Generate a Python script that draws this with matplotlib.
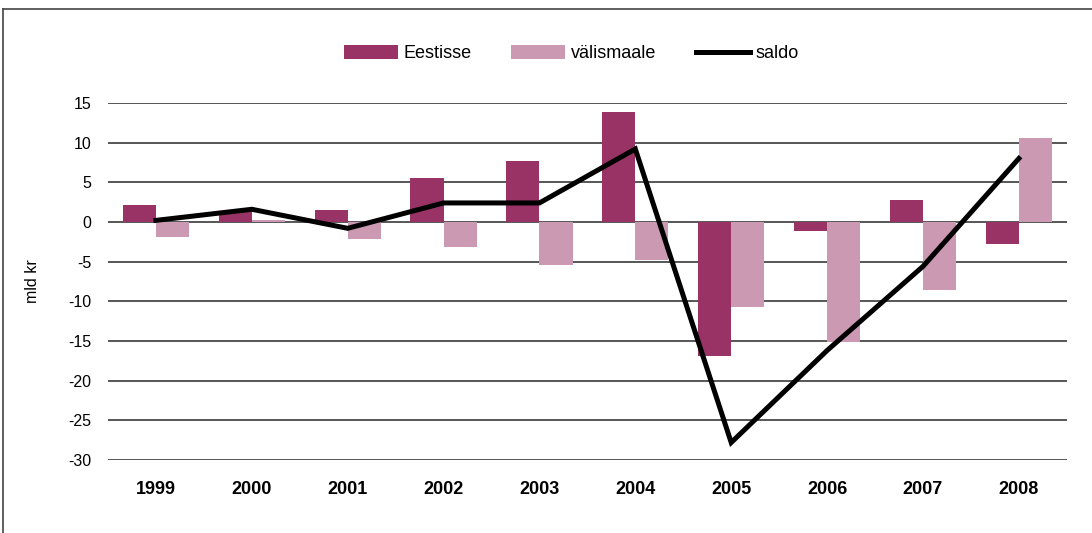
import matplotlib.pyplot as plt
from matplotlib.lines import Line2D
import numpy as np

plt.rcParams['font.family'] = ['Liberation Sans', 'DejaVu Sans']
plt.rcParams['axes.unicode_minus'] = False

years = ['1999', '2000', '2001', '2002', '2003', '2004', '2005', '2006', '2007', '2008']
eestisse = [2.1, 1.4, 1.5, 5.6, 7.7, 13.9, -16.9, -1.2, 2.8, -2.8]
valismaale = [-1.9, 0.2, -2.1, -3.1, -5.4, -4.8, -10.7, -15.1, -8.6, 10.6]
saldo = [0.2, 1.6, -0.8, 2.4, 2.4, 9.2, -27.8, -16.2, -5.6, 8.0]

fig = plt.figure(figsize=(10.92, 5.33), dpi=100)
ax = fig.add_axes([0.0989, 0.137, 0.878, 0.6698])

x = np.arange(len(years))
w = 0.345
b1 = ax.bar(x - w / 2, eestisse, w, color="#993366", label="Eestisse", zorder=2)
b2 = ax.bar(x + w / 2, valismaale, w, color="#cc99b3", label="välismaale", zorder=2)
l1, = ax.plot(x, saldo, color="black", linewidth=3.6, label="saldo", zorder=3,
              solid_joinstyle="miter")

ax.set_xlim(-0.5, len(years) - 0.5)
ax.set_ylim(-30, 15)
ax.set_yticks(range(-30, 16, 5))
ax.set_xticks(x)
ax.set_xticklabels(years, fontsize=13, fontweight="bold")
ax.tick_params(axis="y", length=0, pad=12, labelsize=11.5)
ax.tick_params(axis="x", length=0, pad=15)
ax.grid(axis="y", color="#3a3a3a", linewidth=1.2, zorder=1)
ax.set_axisbelow(True)
for s in ax.spines.values():
    s.set_visible(False)
ax.set_ylabel("mld kr", fontsize=11.5, labelpad=20)

fig.legend([b1, b2, l1], ["Eestisse", "välismaale", "saldo"],
           loc="center", bbox_to_anchor=(0.523, 0.899), ncol=3, frameon=False,
           fontsize=13, handlelength=3.0, handleheight=0.75,
           handletextpad=0.3, columnspacing=2.2)

# outer frame (top and left)
fig.add_artist(Line2D([0.003, 1.0], [0.983, 0.983], color="#444444", linewidth=1.2))
fig.add_artist(Line2D([0.003, 0.003], [0.0, 0.983], color="#444444", linewidth=1.2))

fig.savefig("out.png", dpi=100)
